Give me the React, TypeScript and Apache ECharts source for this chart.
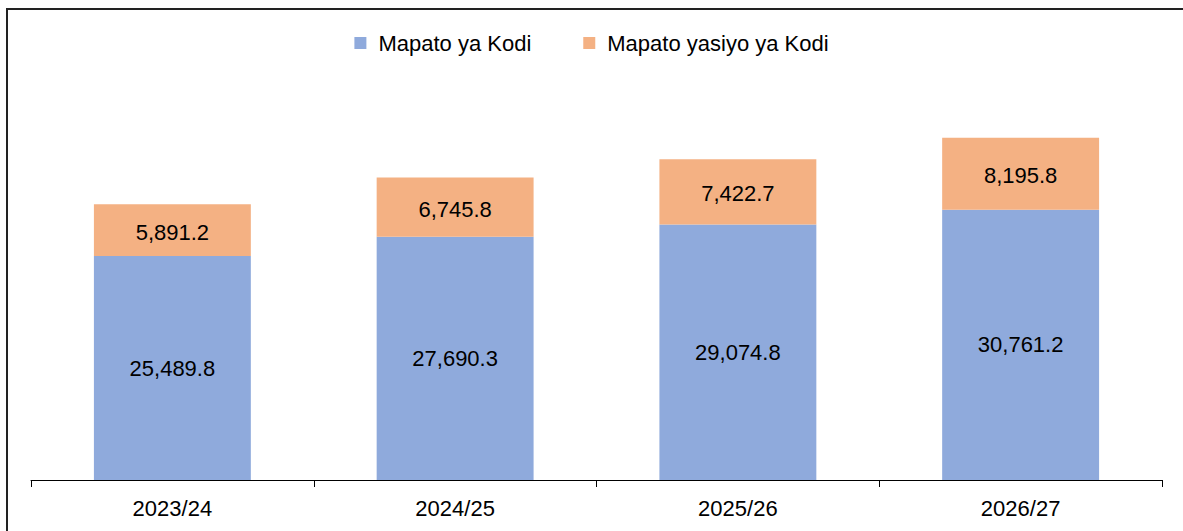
import React, { useEffect, useRef } from "react";
import * as echarts from "echarts";

const categories = ["2023/24", "2024/25", "2025/26", "2026/27"];
const taxRevenue = [25489.8, 27690.3, 29074.8, 30761.2];
const nonTaxRevenue = [5891.2, 6745.8, 7422.7, 8195.8];
const seriesNames = ["Mapato ya Kodi", "Mapato yasiyo ya Kodi"];

const fmt = (v: number) =>
  v.toLocaleString("en-US", { minimumFractionDigits: 1, maximumFractionDigits: 1 });

export default function App() {
  const ref = useRef<HTMLDivElement>(null);
  useEffect(() => {
    if (!ref.current) return;
    const chart = echarts.init(ref.current, undefined, { renderer: "svg" });
    const font = "Liberation Sans, Arial, sans-serif";
    chart.setOption({
      animation: false,
      backgroundColor: "#ffffff",
      textStyle: { fontFamily: font },
      legend: {
        top: 27,
        left: "center",
        itemWidth: 12,
        itemHeight: 12,
        itemGap: 52,
        icon: "rect",
        textStyle: {
          fontSize: 22,
          color: "#000",
          fontFamily: font,
          padding: [0, 0, 0, 7],
        },
        data: seriesNames,
      },
      grid: { left: 31, right: 21, top: 128.5, bottom: 51 },
      xAxis: {
        type: "category",
        data: categories,
        axisLine: { lineStyle: { color: "#000", width: 1 } },
        axisTick: { show: true, length: 7, lineStyle: { color: "#000" } },
        axisLabel: { fontSize: 22, color: "#000", margin: 17, fontFamily: font },
      },
      yAxis: {
        type: "value",
        min: 0,
        max: 40000,
        show: false,
        splitLine: { show: false },
      },
      graphic: [
        {
          type: "rect",
          shape: { x: 7, y: 9, width: 1200, height: 600 },
          style: { fill: "none", stroke: "#222", lineWidth: 2 },
          silent: true,
          z: 100,
        },
      ],
      series: [
        {
          name: seriesNames[0],
          type: "bar",
          stack: "total",
          data: taxRevenue,
          barWidth: "55.5%",
          itemStyle: { color: "#8FAADC" },
          label: {
            show: true,
            position: "inside",
            fontSize: 22,
            color: "#000",
            fontFamily: font,
            formatter: (p: any) => fmt(p.value),
          },
        },
        {
          name: seriesNames[1],
          type: "bar",
          stack: "total",
          data: nonTaxRevenue,
          barWidth: "55.5%",
          itemStyle: { color: "#F4B183" },
          label: {
            show: true,
            position: "inside",
            offset: [0, 2],
            fontSize: 22,
            color: "#000",
            fontFamily: font,
            formatter: (p: any) => fmt(p.value),
          },
        },
      ],
    });
    return () => chart.dispose();
  }, []);
  return (
    <div
      ref={ref}
      style={{ position: "fixed", left: 0, top: 0, width: 1183, height: 531 }}
    />
  );
}
